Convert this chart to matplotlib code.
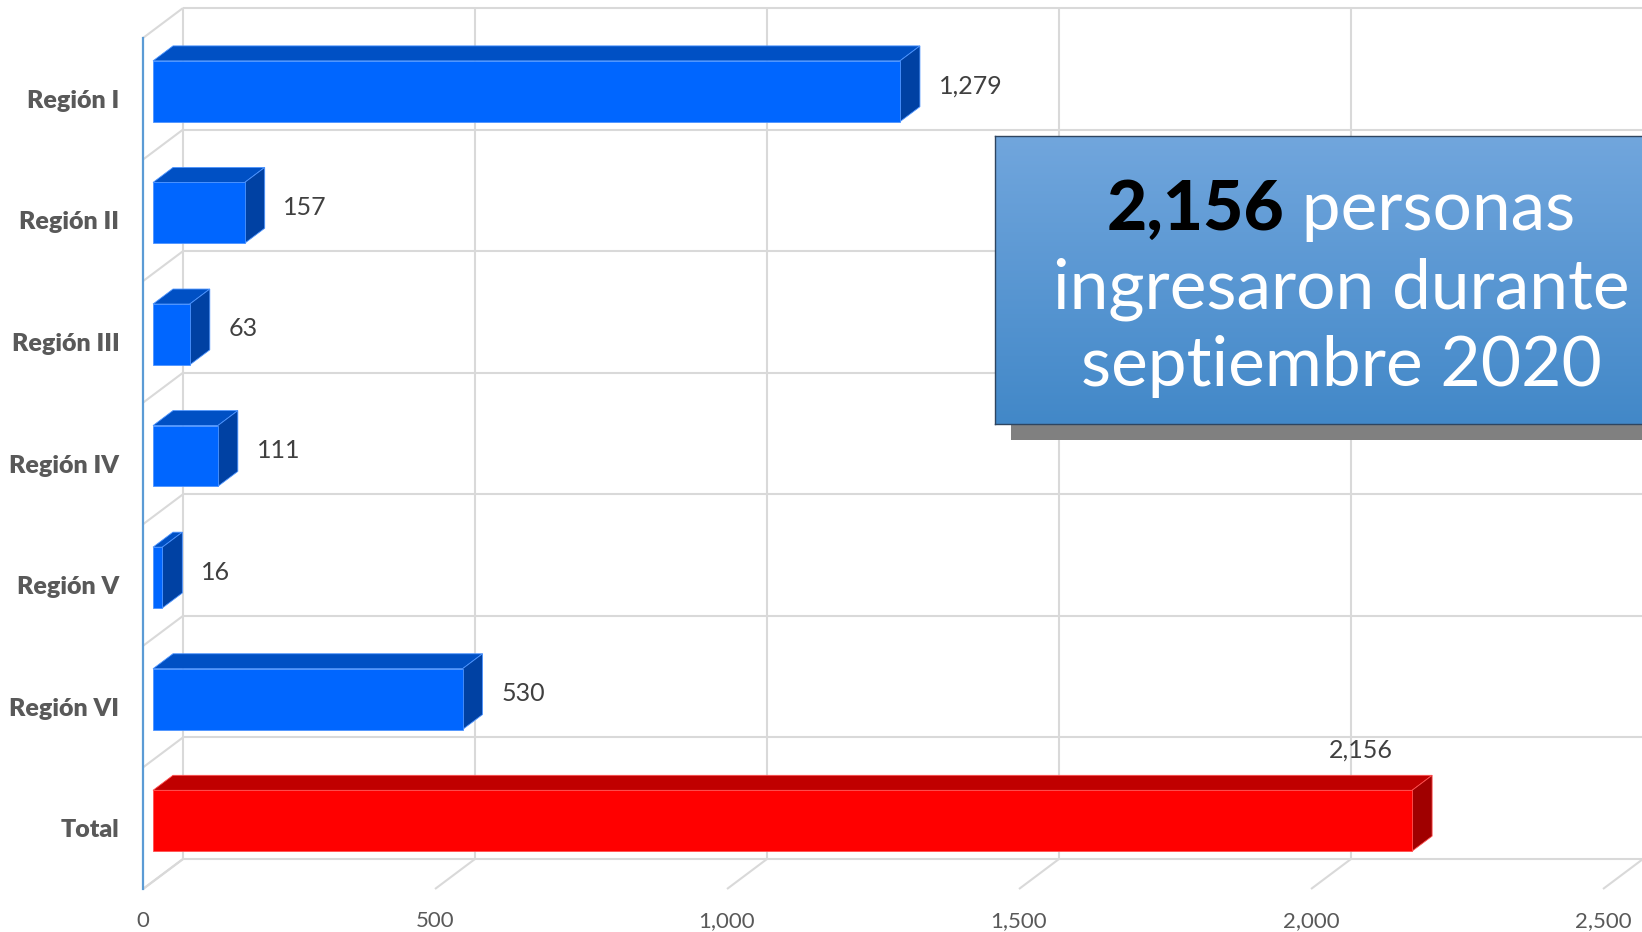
import numpy as np
import matplotlib
matplotlib.use("Agg")
import matplotlib.pyplot as plt
from matplotlib.patches import Polygon, Rectangle

categories = ["Región I", "Región II", "Región III", "Región IV", "Región V", "Región VI", "Total"]
values = [1279, 157, 63, 111, 16, 530, 2156]
value_labels = ["1,279", "157", "63", "111", "16", "530", "2,156"]
x_ticks = [0, 500, 1000, 1500, 2000, 2500]
x_tick_labels = ["0", "500", "1,000", "1,500", "2,000", "2,500"]
box_total = "2,156"
box_lines = [" personas", "ingresaron durante", "septiembre 2020"]

FONT = ["Lato", "DejaVu Sans"]
GREY = "#595959"

W, H = 1642, 932
fig = plt.figure(figsize=(W / 100, H / 100), dpi=100)
fig.patch.set_facecolor("white")

# front plane of the 3d box, in pixels
left, right, top, bottom = 143, 1603, 38, 889
n = len(categories)
xmax = x_ticks[-1]
ax = fig.add_axes([left / W, 1 - bottom / H, (right - left) / W, (bottom - top) / H])
ax.set_xlim(0, xmax)
ax.set_ylim(n - 0.5, -0.5)
for s in ax.spines.values():
    s.set_visible(False)
ax.set_facecolor("none")

# box depth in data units (40 px right, 30 px up)
DX = 40 / (right - left) * xmax
DY = -30 / ((bottom - top) / n)

grid = dict(color="#D9D9D9", lw=1.5, clip_on=False, zorder=1, solid_capstyle="butt")
for v in x_ticks:
    ax.plot([v + DX, v + DX], [-0.5 + DY, n - 0.5 + DY], **grid)
    ax.plot([v, v + DX], [n - 0.5, n - 0.5 + DY], **grid)
for k in range(n + 1):
    b = k - 0.5
    ax.plot([DX, xmax + 2 * DX], [b + DY, b + DY], **grid)
    ax.plot([0, DX], [b, b + DY], **grid)
ax.plot([0, 0], [-0.5, n - 0.5], color="#5B9BD5", lw=1.6, clip_on=False, zorder=2)

# bars: front, top and side faces
for i, (v, cat, lab) in enumerate(zip(values, categories, value_labels)):
    if cat == "Total":
        cf, ct, cs, ce = "#FF0000", "#C00000", "#A00000", "#FF5050"
    else:
        cf, ct, cs, ce = "#0066FF", "#0050C4", "#0041A3", "#4D94FF"
    ox, oy = DX * 0.25, DY * 0.25
    hx, hy = DX * 0.5, DY * 0.5
    y0, y1 = i - 0.25 + oy, i + 0.25 + oy
    x0, x1 = ox, v + ox
    faces = [
        ([(x0, y0), (x1, y0), (x1 + hx, y0 + hy), (x0 + hx, y0 + hy)], ct),
        ([(x1, y0), (x1 + hx, y0 + hy), (x1 + hx, y1 + hy), (x1, y1)], cs),
        ([(x0, y0), (x1, y0), (x1, y1), (x0, y1)], cf),
    ]
    for pts, c in faces:
        ax.add_patch(Polygon(pts, closed=True, facecolor=c, edgecolor=ce, lw=0.6,
                             clip_on=False, zorder=3))
    if cat == "Total":
        ax.text(v - 70, i - 0.66, lab, ha="center", va="center_baseline",
                fontsize=18, color="#404040", family=FONT, zorder=4, clip_on=False)
    else:
        ax.text(x1 + hx + 32, i + DY * 0.5, lab, ha="left", va="center_baseline",
                fontsize=18, color="#404040", family=FONT, zorder=4, clip_on=False)

ax.set_xticks(x_ticks)
ax.set_xticklabels(x_tick_labels, fontsize=16, color=GREY, family=FONT)
ax.set_yticks(range(n))
ax.set_yticklabels(categories, fontsize=18, color=GREY, family=FONT, fontweight="heavy")
ax.tick_params(axis="x", length=0, pad=16)
ax.tick_params(axis="y", length=0, pad=17)

# call-out box with gradient and shadow
bx0, by0, by1 = 995, 136, 424
shadow = Rectangle(((bx0 + 16) / W, 1 - (by1 + 16) / H), (W + 50 - bx0) / W, (by1 - by0) / H,
                   transform=fig.transFigure, facecolor="#808080", edgecolor="none", zorder=2)
fig.add_artist(shadow)
bax = fig.add_axes([bx0 / W, 1 - by1 / H, (W + 40 - bx0) / W, (by1 - by0) / H], zorder=3)
grad = np.linspace(0, 1, 256).reshape(-1, 1)
cmap = matplotlib.colors.LinearSegmentedColormap.from_list("box", ["#71A6DD", "#4288C8"])
bax.imshow(grad, aspect="auto", cmap=cmap, extent=[0, 1, 0, 1], origin="upper")
bax.set_xticks([])
bax.set_yticks([])
for s in bax.spines.values():
    s.set_color("#2E4560")
    s.set_linewidth(1.0)

cx = 1341
fs = 50
t1 = fig.text(0, 1 - 204 / H, box_total, fontsize=fs, fontweight="black", color="black",
              family=FONT, va="center_baseline", ha="left", zorder=5)
t2 = fig.text(0, 1 - 204 / H, box_lines[0], fontsize=fs, fontweight="normal", color="white",
              family=FONT, va="center_baseline", ha="left", zorder=5)
fig.canvas.draw()
r = fig.canvas.get_renderer()
w1 = t1.get_window_extent(r).width
w2 = t2.get_window_extent(r).width
start = cx - (w1 + w2) / 2
t1.set_x(start / W)
t2.set_x((start + w1) / W)
for k, line in enumerate(box_lines[1:]):
    fig.text(cx / W, 1 - (283 + 77 * k) / H, line, fontsize=fs, fontweight="normal",
             color="white", family=FONT, va="center_baseline", ha="center", zorder=5)

fig.savefig("out.png", dpi=100)
